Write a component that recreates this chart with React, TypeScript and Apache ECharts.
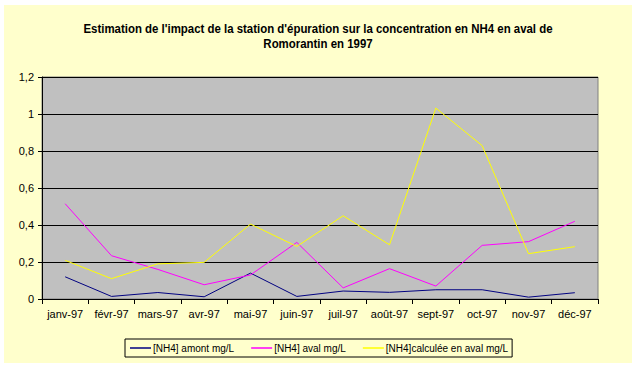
import React, { useEffect, useRef } from "react";
import * as echarts from "echarts";

const categories = ["janv-97", "févr-97", "mars-97", "avr-97", "mai-97", "juin-97", "juil-97", "août-97", "sept-97", "oct-97", "nov-97", "déc-97"];
const amont = [0.12, 0.014, 0.035, 0.012, 0.14, 0.014, 0.043, 0.036, 0.05, 0.05, 0.01, 0.034];
const aval = [0.515, 0.234, 0.16, 0.077, 0.13, 0.306, 0.06, 0.164, 0.07, 0.29, 0.31, 0.42];
const calculee = [0.209, 0.11, 0.19, 0.198, 0.405, 0.284, 0.45, 0.293, 1.032, 0.829, 0.245, 0.283];
const seriesNames = ["[NH4] amont mg/L", "[NH4] aval mg/L", "[NH4]calculée en aval mg/L"];
const titleText = "Estimation de l'impact de la station d'épuration sur la concentration en NH4 en aval de\nRomorantin en 1997";

export default function App() {
  const ref = useRef<HTMLDivElement>(null);
  useEffect(() => {
    if (!ref.current) return;
    const chart = echarts.init(ref.current, null, { renderer: "svg" });
    const font = "Liberation Sans, Arial, sans-serif";
    chart.setOption({
      animation: false,
      backgroundColor: "#FFFFFF",
      graphic: [
        {
          type: "rect",
          z: -10,
          silent: true,
          shape: { x: 4, y: 5, width: 628, height: 358 },
          style: { fill: "#FFFFCC" },
        },
        {
          type: "text",
          x: 318,
          y: 21,
          scaleX: 0.88,
          silent: true,
          style: {
            text: titleText,
            x: 0,
            y: 0,
            align: "center",
            verticalAlign: "top",
            fontFamily: font,
            fontWeight: "bold",
            fontSize: 13,
            lineHeight: 15.5,
            fill: "#000",
          },
        },
      ],
      legend: {
        data: seriesNames,
        left: 125,
        top: 339,
        width: 391,
        height: 12,
        padding: [4, 4, 4, 5],
        itemGap: 17,
        itemWidth: 21,
        itemHeight: 1.5,
        icon: "rect",
        borderColor: "#000",
        borderWidth: 1,
        textStyle: { fontFamily: font, fontSize: 10, color: "#000", padding: [0, 0, 0, -3] },
      },
      grid: {
        left: 42,
        right: 38,
        top: 77,
        bottom: 70,
        show: true,
        backgroundColor: "#C0C0C0",
        borderColor: "#808080",
        borderWidth: 1,
      },
      xAxis: {
        type: "category",
        data: categories,
        boundaryGap: true,
        axisLine: { lineStyle: { color: "#000", width: 1 } },
        axisTick: { show: true, interval: 0, length: 5, lineStyle: { color: "#000" } },
        axisLabel: { interval: 0, fontFamily: font, fontSize: 11, color: "#000", margin: 9 },
      },
      yAxis: {
        type: "value",
        min: 0,
        max: 1.2,
        interval: 0.2,
        axisLine: { show: true, lineStyle: { color: "#000", width: 1 } },
        axisTick: { show: true, length: 4, lineStyle: { color: "#000" } },
        splitLine: { show: true, lineStyle: { color: "#000", width: 1 } },
        axisLabel: {
          fontFamily: font,
          fontSize: 11,
          color: "#000",
          margin: 8,
          formatter: (v: number) => String(Math.round(v * 10) / 10).replace(".", ","),
        },
      },
      series: [
        { name: seriesNames[0], type: "line", data: amont, symbol: "none", lineStyle: { color: "#000080", width: 1 }, itemStyle: { color: "#000080" } },
        { name: seriesNames[1], type: "line", data: aval, symbol: "none", lineStyle: { color: "#FF00FF", width: 1 }, itemStyle: { color: "#FF00FF" } },
        { name: seriesNames[2], type: "line", data: calculee, symbol: "none", lineStyle: { color: "#FFFF00", width: 1 }, itemStyle: { color: "#FFFF00" } },
      ],
    });
    return () => chart.dispose();
  }, []);
  return <div ref={ref} style={{ position: "fixed", left: 0, top: 0, width: 636, height: 369 }} />;
}
